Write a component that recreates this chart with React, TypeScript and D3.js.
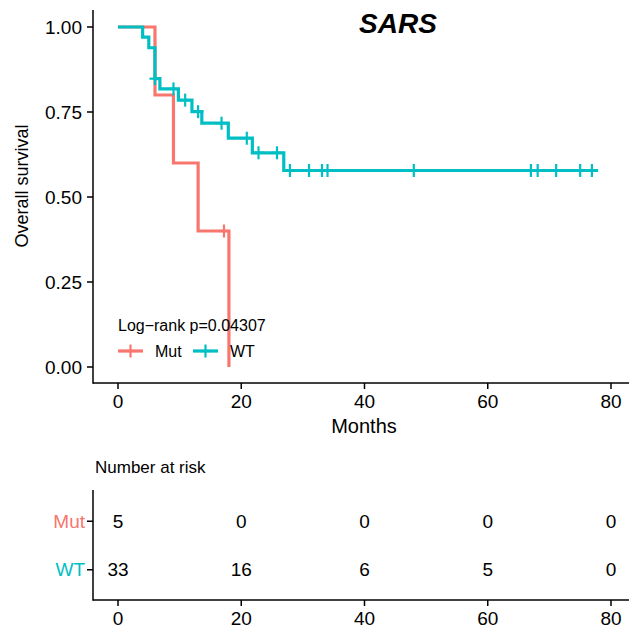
import React from "react";
import * as d3 from "d3";

// ---- Data ----
const groups = ["Mut", "WT"];
const groupColors = ["#F8766D", "#00BFC4"];

const mutTimes = [0, 6, 9, 13, 18];
const mutSurv = [1, 0.8, 0.6, 0.4, 0];
const mutCensorTimes = [17.2];

const wtTimes = [0, 4, 5, 6, 6.8, 9.8, 12, 13.6, 17.9, 21.8, 26.9, 77.9];
const wtSurv = [1, 0.97, 0.939, 0.848, 0.818, 0.785, 0.751, 0.717, 0.673, 0.63, 0.578, 0.578];
const wtCensorTimes = [6, 9, 10.9, 13, 16.8, 20.9, 22.8, 25.8, 27.9, 31, 33.1, 34, 48, 67, 68.1, 71.1, 75, 76.9];

const xTicks = [0, 20, 40, 60, 80];
const yTicks = [0, 0.25, 0.5, 0.75, 1];
const riskTimes = [0, 20, 40, 60, 80];
const riskMut = [5, 0, 0, 0, 0];
const riskWT = [33, 16, 6, 5, 0];

const title = "SARS";
const pText = "Log\u2212rank p=0.04307";

const FONT = "Liberation Sans, Arial, Helvetica, sans-serif";

function survAt(times: number[], surv: number[], t: number) {
  let s = surv[0];
  for (let i = 0; i < times.length; i++) if (times[i] <= t) s = surv[i];
  return s;
}

export default function App() {
  const x = d3.scaleLinear().domain([0, 80]).range([118, 611]);
  const y = d3.scaleLinear().domain([0, 1]).range([367, 27]);
  const axisLeft = 93;
  const axisBottom = 383;

  const line = d3
    .line<[number, number]>()
    .x((d) => x(d[0]))
    .y((d) => y(d[1]))
    .curve(d3.curveStepAfter);

  const series = [
    { times: mutTimes, surv: mutSurv, cens: mutCensorTimes, color: groupColors[0] },
    { times: wtTimes, surv: wtSurv, cens: wtCensorTimes, color: groupColors[1] },
  ];

  // risk table
  const ry = d3.scaleBand().domain(["Mut", "WT"]).range([497, 594]).paddingInner(0);
  const riskBottom = 600;
  const riskRows = [riskMut, riskWT];

  const plus = (cx: number, cy: number, color: string, key: string) => (
    <g key={key} stroke={color} strokeWidth={2.2}>
      <line x1={cx} x2={cx} y1={cy - 6.5} y2={cy + 6.5} />
      <line x1={cx - 5.5} x2={cx + 5.5} y1={cy} y2={cy} />
    </g>
  );

  return (
    <svg
      width={629}
      height={629}
      style={{ position: "absolute", left: 0, top: 0, background: "#fff" }}
      fontFamily={FONT}
    >
      <rect width={629} height={629} fill="#fff" />
      {/* title */}
      <text x={398} y={33} textAnchor="middle" fontSize={28} fontWeight="bold" fontStyle="italic">
        {title}
      </text>

      {/* curves */}
      {series.map((s, i) => (
        <g key={i}>
          <path
            d={line(s.times.map((t, j) => [t, s.surv[j]] as [number, number])) || ""}
            fill="none"
            stroke={s.color}
            strokeWidth={3.2}
          />
          {s.cens.map((t, j) => plus(x(t), y(survAt(s.times, s.surv, t)), s.color, `c${i}-${j}`))}
        </g>
      ))}

      {/* axes */}
      <line x1={axisLeft} x2={axisLeft} y1={10} y2={axisBottom + 0.75} stroke="#000" strokeWidth={1.5} />
      <line x1={axisLeft} x2={629} y1={axisBottom} y2={axisBottom} stroke="#000" strokeWidth={1.5} />
      {yTicks.map((t) => (
        <g key={`yt${t}`}>
          <line x1={axisLeft - 6} x2={axisLeft} y1={y(t)} y2={y(t)} stroke="#000" strokeWidth={1.5} />
          <text x={axisLeft - 11} y={y(t)} dy="0.35em" textAnchor="end" fontSize={19}>
            {d3.format(".2f")(t)}
          </text>
        </g>
      ))}
      {xTicks.map((t) => (
        <g key={`xt${t}`}>
          <line x1={x(t)} x2={x(t)} y1={axisBottom} y2={axisBottom + 6} stroke="#000" strokeWidth={1.5} />
          <text x={x(t)} y={408} textAnchor="middle" fontSize={19}>
            {t}
          </text>
        </g>
      ))}
      <text x={364} y={433} textAnchor="middle" fontSize={20}>
        Months
      </text>
      <text transform="translate(28,186) rotate(-90)" textAnchor="middle" fontSize={18}>
        Overall survival
      </text>

      {/* legend */}
      <text x={118} y={331} fontSize={16}>
        {pText}
      </text>
      {groups.map((g, i) => {
        const kx = i === 0 ? 118 : 193;
        return (
          <g key={`lg${g}`}>
            <line x1={kx} x2={kx + 25} y1={351} y2={351} stroke={groupColors[i]} strokeWidth={3.2} />
            {plus(kx + 12.5, 351, groupColors[i], `lp${g}`)}
            <text x={kx + 37} y={351} dy="0.35em" fontSize={16}>
              {g}
            </text>
          </g>
        );
      })}

      {/* risk table */}
      <text x={95} y={473} fontSize={17}>
        Number at risk
      </text>
      <line x1={axisLeft} x2={axisLeft} y1={490} y2={riskBottom + 0.75} stroke="#000" strokeWidth={1.5} />
      <line x1={axisLeft} x2={629} y1={riskBottom} y2={riskBottom} stroke="#000" strokeWidth={1.5} />
      {groups.map((g, i) => {
        const cy = (ry(g) || 0) + ry.bandwidth() / 2;
        return (
          <g key={`rr${g}`}>
            <line x1={axisLeft - 6} x2={axisLeft} y1={cy} y2={cy} stroke="#000" strokeWidth={1.5} />
            <text x={axisLeft - 8} y={cy} dy="0.35em" textAnchor="end" fontSize={19} fill={groupColors[i]}>
              {g}
            </text>
            {riskTimes.map((t, j) => (
              <text key={`rv${g}${t}`} x={x(t)} y={cy} dy="0.35em" textAnchor="middle" fontSize={19}>
                {riskRows[i][j]}
              </text>
            ))}
          </g>
        );
      })}
      {riskTimes.map((t) => (
        <g key={`rxt${t}`}>
          <line x1={x(t)} x2={x(t)} y1={riskBottom} y2={riskBottom + 6} stroke="#000" strokeWidth={1.5} />
          <text x={x(t)} y={625} textAnchor="middle" fontSize={19}>
            {t}
          </text>
        </g>
      ))}
    </svg>
  );
}
